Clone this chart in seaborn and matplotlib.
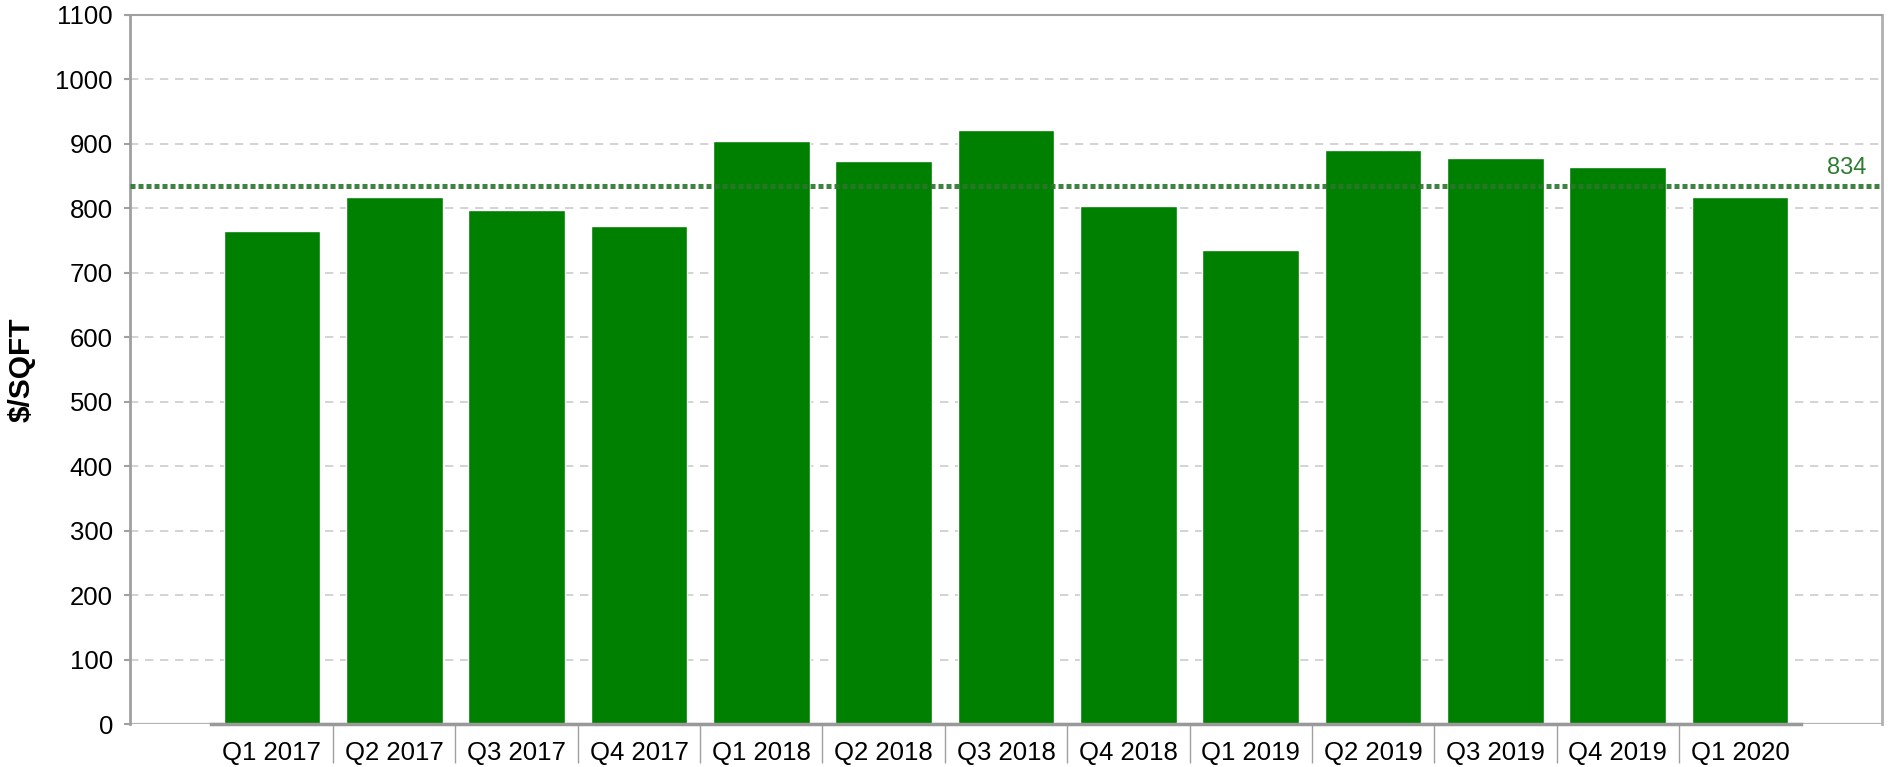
import matplotlib
matplotlib.use("Agg")
import matplotlib.pyplot as plt
import seaborn as sns
import pandas as pd
import numpy as np

quarters = ["Q1 2017", "Q2 2017", "Q3 2017", "Q4 2017", "Q1 2018", "Q2 2018",
            "Q3 2018", "Q4 2018", "Q1 2019", "Q2 2019", "Q3 2019", "Q4 2019", "Q1 2020"]
price_per_sqft = [765, 818, 798, 773, 905, 874, 922, 804, 736, 891, 878, 864, 818]
mean_value = 834
y_ticks = list(range(0, 1101, 100))

sns.set_theme(style="white")
plt.rcParams['font.family'] = ['Liberation Sans', 'DejaVu Sans']

df = pd.DataFrame({"quarter": quarters, "value": price_per_sqft})

fig = plt.figure(figsize=(18.88, 7.67), dpi=100)
ax = fig.add_axes([130 / 1888, 1 - 724 / 767, (1882 - 130) / 1888, (724 - 15) / 767])

sns.barplot(data=df, x="quarter", y="value", color="#008000", saturation=1,
            width=0.79, ax=ax, zorder=2)

ax.set_ylim(0, 1100)
ax.set_yticks(y_ticks)
ax.set_xlim(-1.16, 13.16)

ax.yaxis.grid(True, color="#cccccc", linestyle=(0, (5, 4)), linewidth=1.2, zorder=0)
ax.xaxis.grid(False)
ax.set_axisbelow(True)
# light baseline across the full plot width
ax.axhline(0, color="#b4b4b4", linewidth=1.6, zorder=1)

ax.axhline(mean_value, color="#2b752b", alpha=0.9, linewidth=3.6,
           linestyle=(0, (1, 0.6)), zorder=3)
ax.text(13.03, mean_value + 12, str(mean_value), color="#2e7d32", fontsize=17,
        ha="right", va="bottom")

for side in ["left", "right", "top", "bottom"]:
    ax.spines[side].set_visible(True)
    ax.spines[side].set_color("#a0a0a0")
ax.spines["left"].set_linewidth(2)
ax.spines["right"].set_linewidth(2)
ax.spines["right"].set_color("#b0b0b0")
ax.spines["top"].set_linewidth(1.5)
ax.spines["bottom"].set_linewidth(2.5)
ax.spines["bottom"].set_color("#999999")
ax.spines["bottom"].set_bounds(-0.5, len(quarters) - 0.5)
ax.spines["bottom"].set_zorder(4)

ax.tick_params(axis="y", which="major", left=True, length=4.3, width=1.5,
               color="#a0a0a0", labelsize=18.5, labelcolor="black", pad=8)
ax.tick_params(axis="x", which="major", bottom=True, length=0, labelsize=18.5,
               labelcolor="black", pad=12)
ax.set_xticks(np.arange(0.5, len(quarters) - 1, 1.0), minor=True)
ax.tick_params(axis="x", which="minor", bottom=True, length=28, width=1,
               color="#a0a0a0", direction="out")

ax.set_xlabel("")
ax.set_ylabel("$/SQFT", fontsize=21.5, fontweight="bold", color="black", labelpad=14)

fig.savefig("out.png", dpi=100)
